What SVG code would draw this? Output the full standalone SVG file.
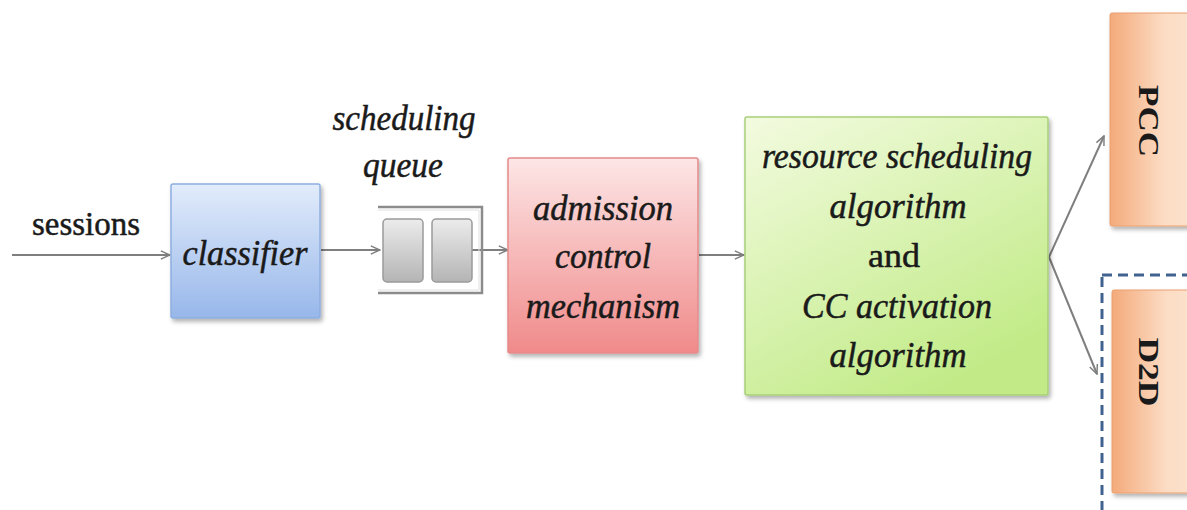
<svg xmlns="http://www.w3.org/2000/svg" width="1187" height="510" viewBox="0 0 1187 510">
<style>
.t{font-family:'Liberation Serif','Times New Roman',serif;font-style:italic;font-size:36px;fill:#1a1a1a;stroke:#1a1a1a;stroke-width:0.5}
.u{font-family:'Liberation Serif','Times New Roman',serif;font-size:34px;fill:#1a1a1a;stroke:#1a1a1a;stroke-width:0.5}
.b{font-family:'Liberation Serif','Times New Roman',serif;font-weight:bold;font-size:30px;fill:#1a1a1a}
.c{stroke:#7f7f7f;stroke-width:2;fill:none;marker-end:url(#ah)}
</style>
<defs>
<marker id="ah" viewBox="0 0 12 12" refX="11" refY="6" markerWidth="11" markerHeight="11" markerUnits="userSpaceOnUse" orient="auto">
<path d="M1,1.5 L11,6 L1,10.5" fill="none" stroke="#7f7f7f" stroke-width="1.6"/>
</marker>
<filter id="sh" x="-10%" y="-10%" width="130%" height="130%">
<feDropShadow dx="2" dy="3" stdDeviation="2" flood-color="#000" flood-opacity="0.3"/>
</filter>
<linearGradient id="gb" x1="0" y1="0" x2="0" y2="1"><stop offset="0" stop-color="#e2ecfb"/><stop offset="1" stop-color="#97b7ea"/></linearGradient>
<linearGradient id="gr" x1="0" y1="0" x2="0" y2="1"><stop offset="0" stop-color="#fde6e6"/><stop offset="1" stop-color="#f08a8a"/></linearGradient>
<linearGradient id="gg" x1="0" y1="0" x2="0.6" y2="1"><stop offset="0" stop-color="#f3fbe0"/><stop offset="1" stop-color="#c2eb88"/></linearGradient>
<linearGradient id="go" x1="0" y1="0" x2="1" y2="0"><stop offset="0" stop-color="#f3aa7a"/><stop offset="0.6" stop-color="#fcdcc4"/><stop offset="1" stop-color="#fbe3cf"/></linearGradient>
<linearGradient id="gq" x1="0" y1="0" x2="0" y2="1"><stop offset="0" stop-color="#ececec"/><stop offset="1" stop-color="#b4b4b4"/></linearGradient>
</defs>
<rect width="1187" height="510" fill="#ffffff"/>

<g id="connectors">
<line class="c" x1="12" y1="255" x2="170" y2="255"/>
<line class="c" x1="321" y1="250" x2="380" y2="250"/>
<line class="c" x1="472" y1="250" x2="508" y2="250"/>
<line class="c" x1="699" y1="255" x2="744" y2="255"/>
<line class="c" x1="1049" y1="257" x2="1104" y2="136"/>
<line class="c" x1="1049" y1="257" x2="1097" y2="374"/>
</g>

<g id="sessions-label">
<text class="u" x="86" y="235" text-anchor="middle" textLength="108" lengthAdjust="spacingAndGlyphs">sessions</text>
</g>

<g id="classifier">
<rect x="171" y="184" width="149" height="134" rx="2" fill="url(#gb)" stroke="#8eaee0" stroke-width="1.5" filter="url(#sh)"/>
<text class="t" x="245" y="265" text-anchor="middle" textLength="125" lengthAdjust="spacingAndGlyphs">classifier</text>
</g>

<g id="queue">
<text class="t" x="404" y="130" text-anchor="middle" textLength="143" lengthAdjust="spacingAndGlyphs">scheduling</text>
<text class="t" x="403" y="177" text-anchor="middle" textLength="80" lengthAdjust="spacingAndGlyphs">queue</text>
<path d="M378,207 H482 V293 H378" fill="none" stroke="#8c8c8c" stroke-width="2.5"/>
<path d="M378,210 H479 V290 H378" fill="none" stroke="#e0e0e0" stroke-width="1"/>
<rect x="383" y="219" width="40" height="63" rx="4" fill="url(#gq)" stroke="#9a9a9a" stroke-width="1.5"/>
<rect x="432" y="219" width="40" height="63" rx="4" fill="url(#gq)" stroke="#9a9a9a" stroke-width="1.5"/>
</g>

<g id="admission">
<rect x="508" y="158" width="190" height="195" rx="2" fill="url(#gr)" stroke="#e58a8a" stroke-width="1.5" filter="url(#sh)"/>
<text class="t" x="603" y="220" text-anchor="middle" textLength="140" lengthAdjust="spacingAndGlyphs">admission</text>
<text class="t" x="603" y="268" text-anchor="middle" textLength="96" lengthAdjust="spacingAndGlyphs">control</text>
<text class="t" x="603" y="318" text-anchor="middle" textLength="154" lengthAdjust="spacingAndGlyphs">mechanism</text>
</g>

<g id="algorithm">
<rect x="745" y="117" width="303" height="278" rx="2" fill="url(#gg)" stroke="#a8cf78" stroke-width="1.5" filter="url(#sh)"/>
<text class="t" x="897" y="168" text-anchor="middle" textLength="270" lengthAdjust="spacingAndGlyphs">resource scheduling</text>
<text class="t" x="898" y="218" text-anchor="middle" textLength="137" lengthAdjust="spacingAndGlyphs">algorithm</text>
<text class="u" x="894" y="267" text-anchor="middle" textLength="52" lengthAdjust="spacingAndGlyphs">and</text>
<text class="t" x="897" y="318" text-anchor="middle" textLength="190" lengthAdjust="spacingAndGlyphs">CC activation</text>
<text class="t" x="898" y="367" text-anchor="middle" textLength="137" lengthAdjust="spacingAndGlyphs">algorithm</text>
</g>

<g id="pcc">
<rect x="1110" y="13" width="90" height="213" rx="2" fill="url(#go)" stroke="#eaa070" stroke-width="1" filter="url(#sh)"/>
<text class="b" transform="translate(1139,121) rotate(90)" x="0" y="0" text-anchor="middle" textLength="72" lengthAdjust="spacingAndGlyphs">PCC</text>
</g>

<g id="d2d">
<rect x="1102" y="275" width="100" height="250" fill="none" stroke="#41628f" stroke-width="3" stroke-dasharray="10,6"/>
<rect x="1112" y="290" width="90" height="203" rx="2" fill="url(#go)" stroke="#eaa070" stroke-width="1" filter="url(#sh)"/>
<text class="b" transform="translate(1139,372) rotate(90)" x="0" y="0" text-anchor="middle" textLength="69" lengthAdjust="spacingAndGlyphs">D2D</text>
</g>
</svg>
